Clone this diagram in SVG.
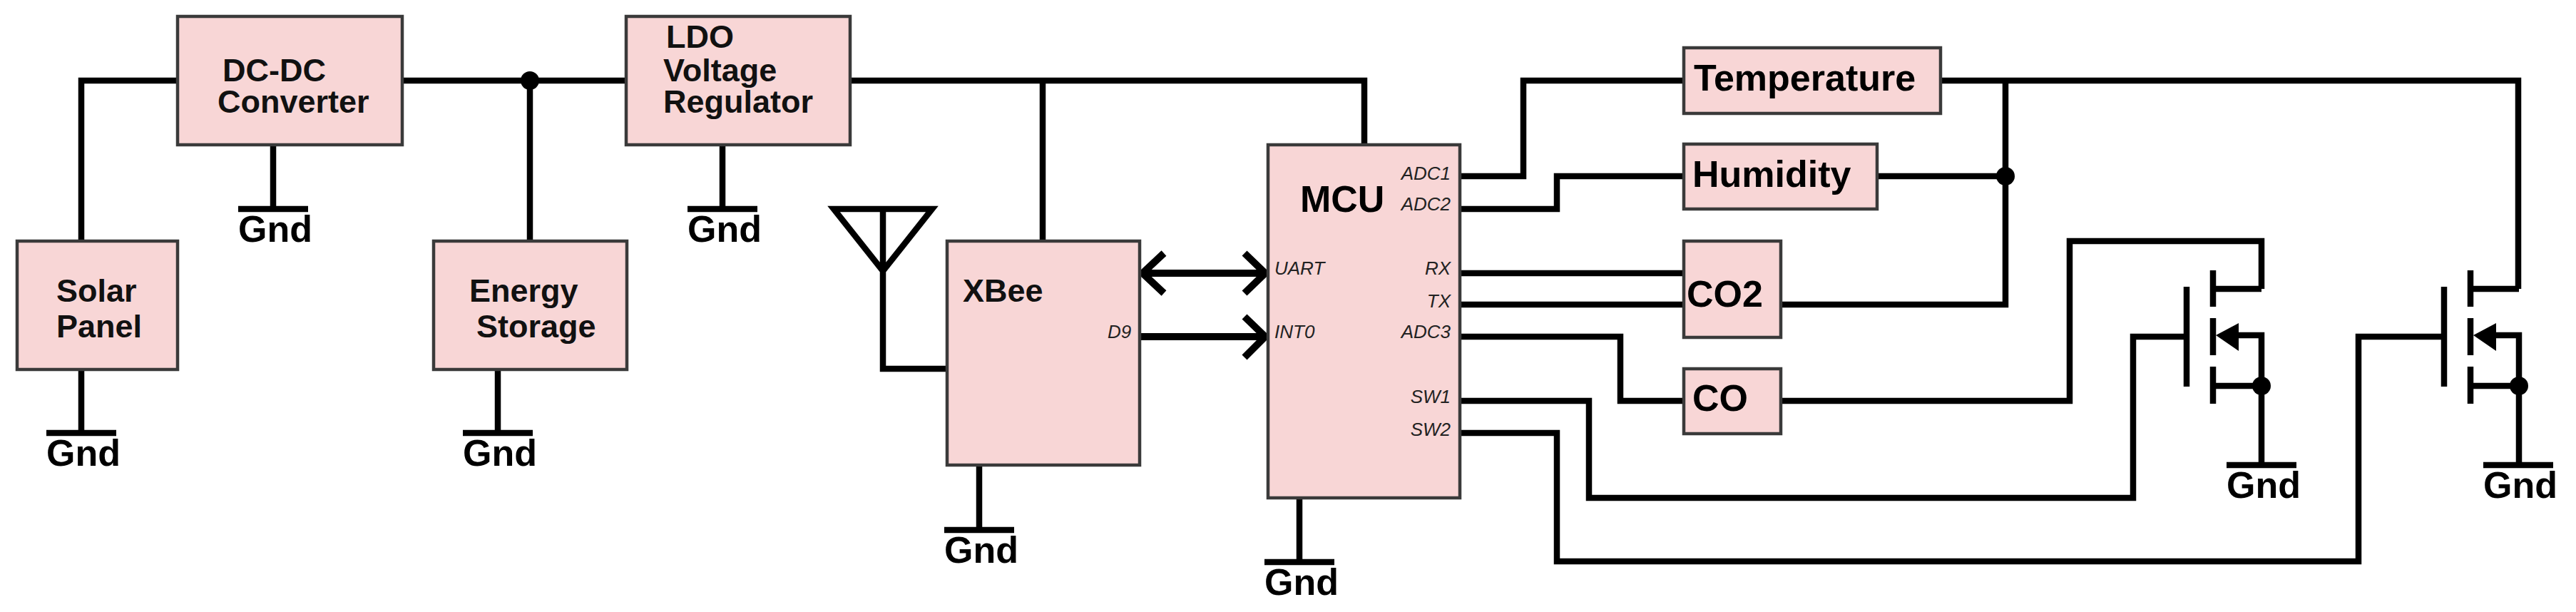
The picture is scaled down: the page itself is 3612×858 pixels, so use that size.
<svg xmlns="http://www.w3.org/2000/svg" width="3612" height="858" viewBox="0 0 3612 858">
<style>
text{font-family:"Liberation Sans",Arial,sans-serif;fill:#000}
.box{fill:#f8d6d6;stroke:#3a3a3a;stroke-width:4.5}
.w{fill:none;stroke:#000;stroke-width:8.5;stroke-linejoin:miter}
.a{fill:none;stroke:#000;stroke-width:10}
.t{font-size:45px;font-weight:bold;fill:#111}
.g{font-size:52px;font-weight:bold}
.s{font-size:52px;font-weight:bold}
.p{font-size:26px;font-style:italic;fill:#222}
.r{text-anchor:end}
</style>
<defs>
<g id="gnd"><path class="w" d="M-49 0H49"/><text class="g" x="-49" y="46">Gnd</text></g>
<g id="fet">
<path class="w" d="M0 402V542M37 379V430M37 446V498M37 514V566"/>
<path class="w" d="M37 405H105M37 541H105M70 470H105V652"/>
<polygon points="41,470 73,453 73,492" fill="#000"/>
<circle cx="105" cy="541" r="13" fill="#000"/>
</g>
</defs>
<g id="connectors">
<path class="w" d="M114 338V113H249M564 113H878M743 113V338M1192 113H1913V203M1462 113V338"/>
<path class="w" d="M114 518V607M383 203V293M698 518V607M1013 203V293M1373 652V743M1822 698V788"/>
<path class="w" d="M1169 293H1307L1238 380ZM1238 293V517H1328"/>
<path class="a" d="M1602 383H1770M1632 355L1602 383L1632 411M1745 355L1774 383L1745 411M1598 472H1770M1745 444L1774 472L1745 501"/>
<path class="w" d="M2047 247H2136V113H2361M2047 293H2183V247H2361M2047 383H2361M2047 427H2361M2047 472H2272V562H2361"/>
<path class="w" d="M2047 562H2228V698H2991V472H3066M2047 607H2183V787H3307V472H3427"/>
<path class="w" d="M2721 113H3531V405M2812 113V427H2497M2632 247H2812M2497 562H2902V338H3171V405"/>
<circle cx="743" cy="113" r="13" fill="#000"/>
<circle cx="2812" cy="247" r="13" fill="#000"/>
</g>
<g id="dcdc"><rect class="box" x="249" y="23" width="315" height="180"/><text class="t" x="312" y="114">DC-DC</text><text class="t" x="305" y="158">Converter</text></g>
<g id="ldo"><rect class="box" x="878" y="23" width="314" height="180"/><text class="t" x="934" y="67">LDO</text><text class="t" x="930" y="114">Voltage</text><text class="t" x="930" y="158">Regulator</text></g>
<g id="solar"><rect class="box" x="24" y="338" width="225" height="180"/><text class="t" x="79" y="423">Solar</text><text class="t" x="79" y="473">Panel</text></g>
<g id="energy"><rect class="box" x="608" y="338" width="271" height="180"/><text class="t" x="658" y="423">Energy</text><text class="t" x="668" y="473">Storage</text></g>
<g id="xbee"><rect class="box" x="1328" y="338" width="270" height="314"/><text class="t" x="1350" y="423">XBee</text><text class="p" x="1553" y="474">D9</text></g>
<g id="mcu"><rect class="box" x="1778" y="203" width="269" height="495"/><text x="1823" y="297" font-size="52" font-weight="bold" fill="#111">MCU</text>
<text class="p" x="1787" y="385">UART</text><text class="p" x="1787" y="474">INT0</text>
<text class="p r" x="2034" y="252">ADC1</text><text class="p r" x="2034" y="295">ADC2</text><text class="p r" x="2034" y="385">RX</text><text class="p r" x="2034" y="431">TX</text><text class="p r" x="2034" y="474">ADC3</text><text class="p r" x="2034" y="565">SW1</text><text class="p r" x="2034" y="611">SW2</text></g>
<g id="temperature"><rect class="box" x="2361" y="67" width="360" height="92"/><text class="s" x="2375" y="127">Temperature</text></g>
<g id="humidity"><rect class="box" x="2361" y="202" width="271" height="91"/><text class="s" x="2373" y="262">Humidity</text></g>
<g id="co2"><rect class="box" x="2361" y="338" width="136" height="135"/><text class="s" x="2365" y="430">CO2</text></g>
<g id="co"><rect class="box" x="2361" y="517" width="136" height="91"/><text class="s" x="2373" y="576">CO</text></g>
<g id="fet1"><use href="#fet" x="3066"/></g>
<g id="fet2"><use href="#fet" x="3427" /></g>
<g id="gnd1"><use href="#gnd" x="114" y="607"/></g>
<g id="gnd2"><use href="#gnd" x="383" y="293"/></g>
<g id="gnd3"><use href="#gnd" x="698" y="607"/></g>
<g id="gnd4"><use href="#gnd" x="1013" y="293"/></g>
<g id="gnd5"><use href="#gnd" x="1373" y="743"/></g>
<g id="gnd6"><use href="#gnd" x="1822" y="788"/></g>
<g id="gnd7"><use href="#gnd" x="3171" y="652"/></g>
<g id="gnd8"><use href="#gnd" x="3531" y="652"/></g>
</svg>
